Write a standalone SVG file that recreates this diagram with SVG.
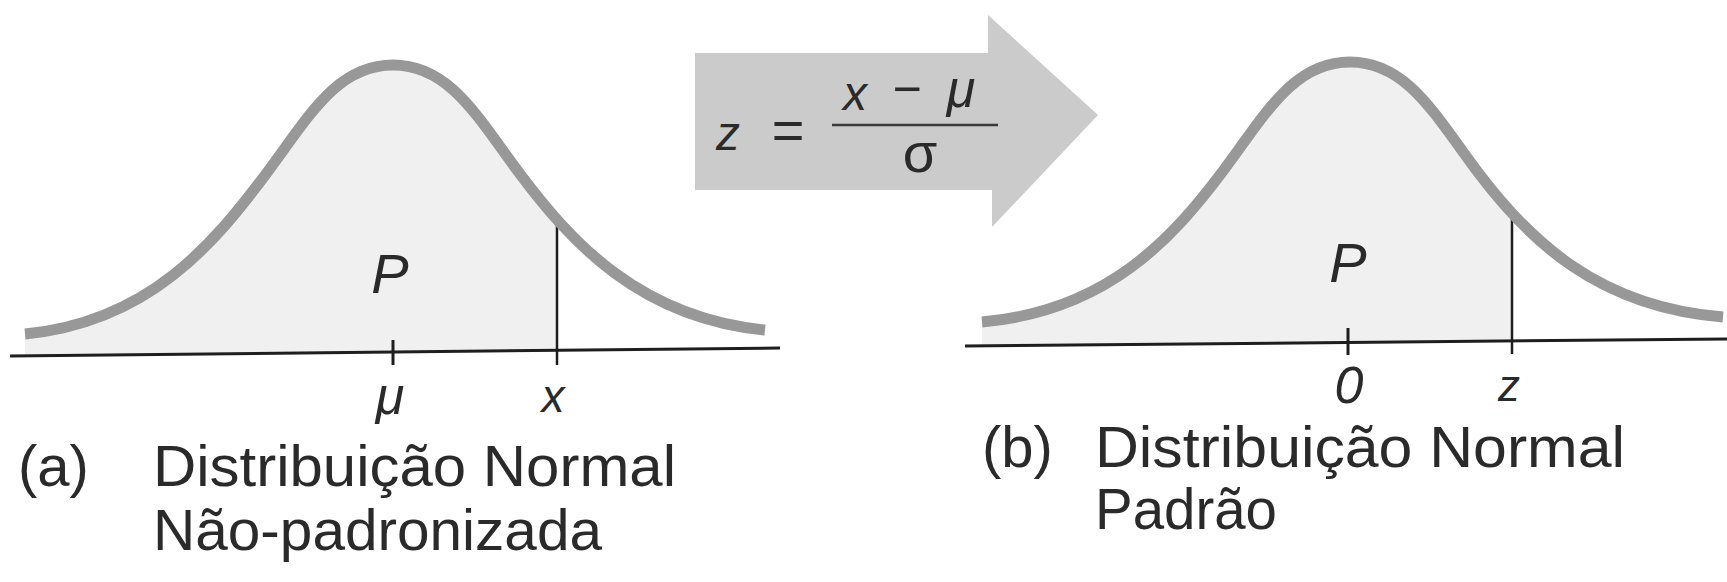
<svg xmlns="http://www.w3.org/2000/svg" width="1727" height="582" viewBox="0 0 1727 582">
<style>
.bg{fill:#ffffff}
.curve{fill:none;stroke:#989898;stroke-width:11;stroke-linecap:butt}
.shade{fill:#f0f0f0}
.axis{stroke:#1e1e1e;stroke-width:3;fill:none}
.vline{stroke:#1e1e1e;stroke-width:2.5;fill:none}
.tick{stroke:#1e1e1e;stroke-width:3;fill:none}
.math{font-family:"Liberation Sans",Arial,sans-serif;font-style:italic;fill:#2a2a2a}
.up{font-family:"Liberation Sans",Arial,sans-serif;fill:#2a2a2a}
.lab{font-family:"Liberation Sans",Arial,sans-serif;fill:#2a2a2a;font-size:58px}
.arrow{fill:#cbcbcb}
.frac{stroke:#3a3a3a;stroke-width:2.5}
</style>
<defs>
<clipPath id="clipA"><rect x="0" y="0" width="557" height="582"/></clipPath>
<clipPath id="clipB"><rect x="900" y="0" width="612" height="582"/></clipPath>
</defs>
<rect class="bg" x="0" y="0" width="1727" height="582"/>

<g id="graph-a">
<path class="shade" clip-path="url(#clipA)" d="M 25 334 C 150 322, 215 242, 266 174 C 308 118, 336 65, 393 65 C 450 65, 478 118, 520 174 C 571 242, 640 318, 765 330 L 765 348 L 25 356 Z"/>
<line class="vline" x1="557" y1="216" x2="557" y2="365"/>
<path class="curve" d="M 25 334 C 150 322, 215 242, 266 174 C 308 118, 336 65, 393 65 C 450 65, 478 118, 520 174 C 571 242, 640 318, 765 330"/>
<line class="axis" x1="10" y1="356" x2="780" y2="348"/>
<line class="tick" x1="393" y1="340" x2="393" y2="365"/>
<text class="math" x="390" y="293" font-size="56" text-anchor="middle">P</text>
<text class="math" x="390" y="414" font-size="52" text-anchor="middle">μ</text>
<text class="math" x="553" y="412" font-size="46" text-anchor="middle">x</text>
</g>

<g id="label-a">
<text class="lab" x="18" y="486">(a)</text>
<text class="lab" x="153" y="486" textLength="523" lengthAdjust="spacingAndGlyphs">Distribuição Normal</text>
<text class="lab" x="153" y="550" textLength="449" lengthAdjust="spacingAndGlyphs">Não-padronizada</text>
</g>

<g id="arrow">
<path class="arrow" d="M 695 53 L 988 53 L 988 15 L 1098 115 L 992 227 L 992 190 L 695 190 Z"/>
<text class="math" x="716" y="150" font-size="48">z</text>
<text class="up" x="788" y="149" font-size="56" text-anchor="middle">=</text>
<line class="frac" x1="832" y1="125" x2="998" y2="125"/>
<text class="math" x="855" y="110" font-size="48" text-anchor="middle">x</text>
<text class="up" x="907" y="106" font-size="50" text-anchor="middle">−</text>
<text class="math" x="961" y="107" font-size="52" text-anchor="middle">μ</text>
<text class="up" x="920" y="172" font-size="56" text-anchor="middle">σ</text>
</g>

<g id="graph-b">
<path class="shade" clip-path="url(#clipB)" d="M 982 322 C 1107 311, 1172 239, 1223 171 C 1265 115, 1293 62, 1350 62 C 1407 62, 1435 115, 1477 171 C 1528 239, 1597 307, 1723 317 L 1723 339 L 982 345 Z"/>
<line class="vline" x1="1512" y1="214" x2="1512" y2="354"/>
<path class="curve" d="M 982 322 C 1107 311, 1172 239, 1223 171 C 1265 115, 1293 62, 1350 62 C 1407 62, 1435 115, 1477 171 C 1528 239, 1597 307, 1723 317"/>
<line class="axis" x1="965" y1="346" x2="1727" y2="339"/>
<line class="tick" x1="1348" y1="328" x2="1348" y2="355"/>
<text class="math" x="1348" y="282" font-size="56" text-anchor="middle">P</text>
<text class="math" x="1349" y="403" font-size="52" text-anchor="middle">0</text>
<text class="math" x="1509" y="401" font-size="44" text-anchor="middle">z</text>
</g>

<g id="label-b">
<text class="lab" x="982" y="467">(b)</text>
<text class="lab" x="1095" y="467" textLength="530" lengthAdjust="spacingAndGlyphs">Distribuição Normal</text>
<text class="lab" x="1095" y="529" textLength="182" lengthAdjust="spacingAndGlyphs">Padrão</text>
</g>
</svg>
